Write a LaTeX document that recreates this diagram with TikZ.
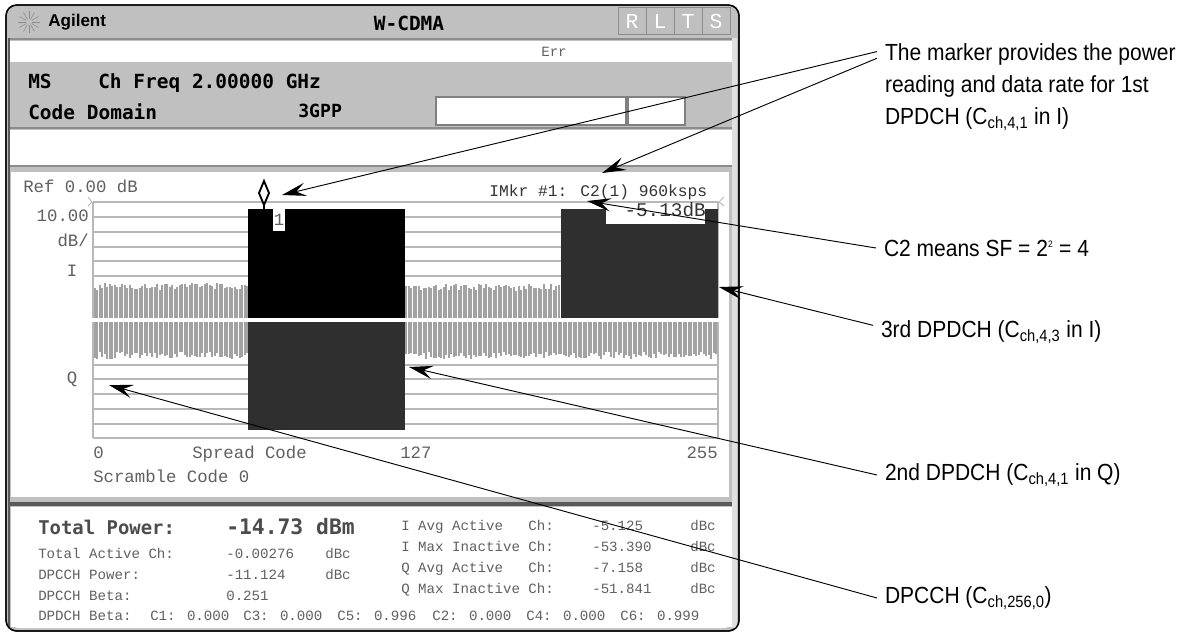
\documentclass[tikz,border=0pt]{standalone}
\usepackage{fontspec}
\usetikzlibrary{arrows.meta}
\newfontfamily\screenfont{Liberation Mono}
\newfontfamily\screenbold{DejaVu Sans Mono Bold}
\newfontfamily\brandfont{Liberation Sans Bold}
\newfontfamily\notefont[FakeStretch=0.9]{Liberation Sans}
\definecolor{panelgray}{HTML}{C0C0C0}
\definecolor{linegray}{HTML}{B8B8B8}
\definecolor{noisegray}{HTML}{A2A2A2}
\definecolor{bardark}{HTML}{2F2F2F}
\definecolor{screentext}{HTML}{606060}
\tikzset{
    screen/.style = {inner sep = 0pt, anchor = west, yshift = -2.25pt, text height = 0.66em, text depth = 0.2em, text = screentext, font = \screenfont\fontsize{13}{13}\selectfont},
    small/.style = {inner sep = 0pt, anchor = west, yshift = -1.1pt, text height = 0.66em, text depth = 0.2em, text = screentext, font = \screenfont\fontsize{10.6}{10.6}\selectfont},
    head/.style = {inner sep = 0pt, anchor = west, yshift = -3pt, text height = 0.73em, text depth = 0.2em, text = black, font = \screenbold\fontsize{14.6}{14.6}\selectfont},
    power/.style = {inner sep = 0pt, anchor = west, yshift = -3pt, text height = 0.73em, text depth = 0.2em, text = black!70, font = \screenbold\fontsize{14.2}{14.2}\selectfont},
    btn/.style = {draw = black!45, fill = black!25, text = white, minimum width = 21pt, minimum height = 20pt, inner sep = 0pt, font = \screenfont\fontsize{16}{16}\selectfont},
    note/.style = {inner sep = 0pt, outer sep = 6pt, anchor = west, align = left, font = \notefont\fontsize{17.5}{24}\selectfont},
    callout/.style = {-{Stealth[length = 18pt, width = 10pt, inset = 7pt]}, line width = 0.7pt}
}
\begin{document}
\begin{tikzpicture}[x = 0.75pt, y = -0.75pt]
    \useasboundingbox (0, 0) rectangle (1180, 632);
    % instrument frame
    \draw [fill = panelgray, line width = 1pt, rounded corners = 8pt] (6, 5) rectangle (739, 631);
    \fill [white] (10, 41) rectangle (732, 62);
    \fill [white] (10, 130) rectangle (732, 165);
    \fill [black!45] (10, 38) rectangle (732, 40);
    \fill [black!45] (10, 127) rectangle (732, 129);
    \fill [black!45] (10, 165) rectangle (732, 167);
    \fill [white] (11, 172) rectangle (729, 497);
    \fill [white] (11, 507) rectangle (732, 627);
    \fill [black!65] (10, 502) rectangle (732, 506);
    \fill [black!65] (8, 38) rectangle (10, 628);
    \fill [black!12] (732, 38) rectangle (737, 628);
    \fill [white, rounded corners = 6pt] (11, 520) rectangle (732, 628);
    \draw [line width = 1pt, rounded corners = 8pt] (6, 5) rectangle (739, 631);

    % title bar
    \foreach \a in {0, 30, ..., 330} {
        \draw [black!45, line width = 0.4pt] (29, 22) ++(\a:3) -- ++(\a:8);
    }
    \node [inner sep = 0pt, anchor = west, font = \brandfont\fontsize{12.8}{12.8}\selectfont] (brand) at (48, 22) {Agilent};
    \node [head, anchor = center] (mode) at (409, 23) {W-CDMA};
    \node [btn] (btnr) at (632, 21) {R};
    \node [btn] (btnl) at (660, 21) {L};
    \node [btn] (btnt) at (688, 21) {T};
    \node [btn] (btns) at (716, 21) {S};
    \node [small, anchor = center] (err) at (554, 52) {Err};

    % header
    \node [head] (ms) at (28, 81) {MS};
    \node [head] (freq) at (98, 81) {Ch Freq 2.00000 GHz};
    \node [head] (domain) at (28, 112) {Code Domain};
    \node [head, font = \screenbold\fontsize{13.6}{13.6}\selectfont] (gpp) at (298, 110) {3GPP};
    \draw [black!50, fill = white, line width = 1pt] (436, 97) rectangle (626, 125);
    \draw [black!50, fill = white, line width = 1pt] (628, 97) rectangle (685, 125);

    % graticule
    \foreach \y in {202, 217, 232, 247, 261, 276, 365, 379, 394, 409, 424, 438} {
        \draw [linegray, line width = 0.8pt] (93, \y) -- (718, \y);
    }
    \draw [linegray, line width = 0.8pt] (93, 202) -- (93, 318) (718, 202) -- (718, 318);
    \draw [linegray, line width = 0.8pt] (93, 322) -- (93, 438) (718, 322) -- (718, 438);
    \draw [linegray, line width = 0.7pt] (88, 197) -- (92, 202) -- (88, 206);
    \draw [linegray, line width = 0.7pt] (724, 197) -- (719, 202) -- (724, 206);

    % noise floor
    \pgfmathsetseed{11}
    \fill [white] (94, 277) rectangle (248, 318) (405, 277) rectangle (561, 318);
    \fill [white] (94, 322) rectangle (717, 364);
    \foreach \x in {94.5, 97, ..., 247} {
        \pgfmathsetmacro{\tp}{283 + 7 * rnd}
        \draw [noisegray, line width = 1.5pt] (\x, 318) -- (\x, \tp);
    }
    \foreach \x in {406, 408.5, ..., 560} {
        \pgfmathsetmacro{\tp}{284 + 7 * rnd}
        \draw [noisegray, line width = 1.5pt] (\x, 318) -- (\x, \tp);
    }
    \foreach \x in {94.5, 97, ..., 247, 406, 408.5, ..., 717} {
        \pgfmathsetmacro{\tp}{352 + 7 * rnd}
        \draw [noisegray, line width = 1.5pt] (\x, 322) -- (\x, \tp);
    }

    % code channels
    \fill [black] (248, 209) rectangle (405, 318);
    \fill [bardark] (248, 322) rectangle (405, 430);
    \fill [bardark] (561, 209) rectangle (718, 318);
    \fill [white] (606, 209) rectangle (705, 224);
    \node [fill = white, inner sep = 0pt, minimum width = 9.5pt, minimum height = 16pt, text = screentext, font = \screenfont\fontsize{13}{13}\selectfont] (mkrnum) at (279, 220) {1};
    \draw [line width = 1.4pt, fill = white] (264, 181) -- (269, 193) -- (264, 205) -- (259, 193) -- cycle;
    \draw [line width = 1.4pt] (264, 205) -- (264, 209);

    % plot labels
    \node [screen] (ref) at (23, 186) {Ref 0.00 dB};
    \node [screen, anchor = east] (scale) at (89, 215) {10.00};
    \node [screen, anchor = east] (perdiv) at (89, 240) {dB/};
    \node [screen, anchor = center] (ilabel) at (72, 270) {I};
    \node [screen, anchor = center] (qlabel) at (72, 377) {Q};
    \node [screen, text = black!80, font = \screenfont\fontsize{12.2}{12.2}\selectfont] (imkr) at (489, 190) {IMkr \#1: C2(1) 960ksps};
    \node [screen, text = black!80, anchor = east, font = \screenfont\fontsize{14.5}{14.5}\selectfont] (mkrval) at (706, 210) {-5.13dB};
    \node [screen] (xzero) at (93, 452) {0};
    \node [screen] (xname) at (192, 452) {Spread Code};
    \node [screen] (xmid) at (400, 452) {127};
    \node [screen, anchor = east] (xend) at (718, 452) {255};
    \node [screen] (scramble) at (93, 476) {Scramble Code 0};

    % results
    \node [power] (totname) at (38, 527) {Total Power:};
    \node [power, font = \screenbold\fontsize{16}{16}\selectfont] (totval) at (226, 527) {-14.73 dBm};
    \node [small] (activename) at (38, 554) {Total Active Ch:};
    \node [small] (activeval) at (226, 554) {-0.00276};
    \node [small] (activeunit) at (325, 554) {dBc};
    \node [small] (dpcchname) at (38, 575) {DPCCH Power:};
    \node [small] (dpcchval) at (226, 575) {-11.124};
    \node [small] (dpcchunit) at (325, 575) {dBc};
    \node [small] (betaname) at (38, 596) {DPCCH Beta:};
    \node [small] (betaval) at (226, 596) {0.251};
    \node [small] (dpdch) at (38, 616) {DPDCH Beta:};
    \node [small] (cone) at (150, 616) {C1: 0.000};
    \node [small] (cthree) at (243, 616) {C3: 0.000};
    \node [small] (cfive) at (337, 616) {C5: 0.996};
    \node [small] (ctwo) at (432, 616) {C2: 0.000};
    \node [small] (cfour) at (526, 616) {C4: 0.000};
    \node [small] (csix) at (620, 616) {C6: 0.999};
    \node [small] (iavg) at (401, 526) {I Avg Active\ \ \ Ch:};
    \node [small] (imax) at (401, 547) {I Max Inactive Ch:};
    \node [small] (qavg) at (401, 568) {Q Avg Active\ \ \ Ch:};
    \node [small] (qmax) at (401, 589) {Q Max Inactive Ch:};
    \node [small] (iavgval) at (592, 526) {-5.125};
    \node [small] (imaxval) at (592, 547) {-53.390};
    \node [small] (qavgval) at (592, 568) {-7.158};
    \node [small] (qmaxval) at (592, 589) {-51.841};
    \node [small] (iavgunit) at (690, 526) {dBc};
    \node [small] (imaxunit) at (690, 547) {dBc};
    \node [small] (qavgunit) at (690, 568) {dBc};
    \node [small] (qmaxunit) at (690, 589) {dBc};

    % notes
    \node [note] (notemarker) at (877, 87) {The marker provides the power\\reading and data rate for 1st\\DPDCH (C\textsubscript{ch,4,1} in I)};
    \node [note] (notesf) at (876, 248) {C2 means SF = 2\textsuperscript{\fontsize{7}{7}\selectfont 2} = 4};
    \node [note] (notethird) at (873, 332) {3rd DPDCH (C\textsubscript{ch,4,3} in I)};
    \node [note] (notesecond) at (877, 475) {2nd DPDCH (C\textsubscript{ch,4,1} in Q)};
    \node [note] (notedpcch) at (877, 598) {DPCCH (C\textsubscript{ch,256,0})};

    \coordinate (tipdiamond) at (282, 195);
    \coordinate (tipimkr) at (602, 173);
    \coordinate (tipscale) at (587, 201);
    \coordinate (tipthird) at (719, 287);
    \coordinate (tipsecond) at (409, 367);
    \coordinate (tipdpcch) at (109, 385);

    \draw [callout] ([yshift = -12pt]notemarker.north west) -- (tipdiamond);
    \draw [callout] ([yshift = -17pt]notemarker.north west) -- (tipimkr);
    \draw [callout] (notesf.west) -- (tipscale);
    \draw [callout] ([yshift = 5pt]notethird.west) -- (tipthird);
    \draw [callout] (notesecond.west) -- (tipsecond);
    \draw [callout] (notedpcch.west) -- (tipdpcch);
\end{tikzpicture}
\end{document}
